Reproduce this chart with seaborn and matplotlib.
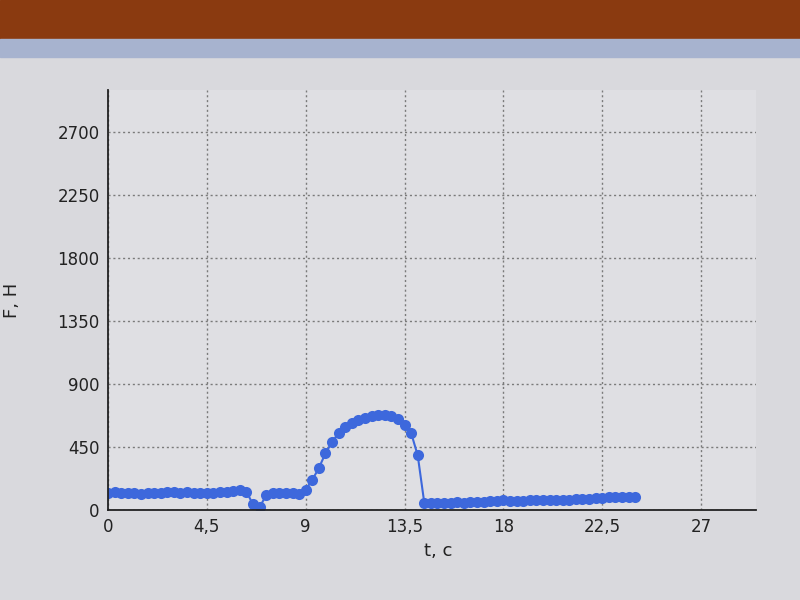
import matplotlib
matplotlib.use("Agg")
import matplotlib.pyplot as plt
import seaborn as sns
import pandas as pd
from matplotlib.ticker import MultipleLocator

# --- data ---
t = [0.0, 0.3, 0.6, 0.9, 1.2, 1.5, 1.8, 2.1, 2.4, 2.7,
     3.0, 3.3, 3.6, 3.9, 4.2, 4.5, 4.8, 5.1, 5.4, 5.7,
     6.0, 6.3, 6.6, 6.9, 7.2, 7.5, 7.8, 8.1, 8.4, 8.7,
     9.0, 9.3, 9.6, 9.9, 10.2, 10.5, 10.8, 11.1, 11.4, 11.7,
     12.0, 12.3, 12.6, 12.9, 13.2, 13.5, 13.8, 14.1, 14.4, 14.7,
     15.0, 15.3, 15.6, 15.9, 16.2, 16.5, 16.8, 17.1, 17.4, 17.7,
     18.0, 18.3, 18.6, 18.9, 19.2, 19.5, 19.8, 20.1, 20.4, 20.7,
     21.0, 21.3, 21.6, 21.9, 22.2, 22.5, 22.8, 23.1, 23.4, 23.7, 24.0]
F = [125, 128, 122, 120, 118, 115, 118, 122, 125, 128,
     126, 124, 128, 125, 122, 120, 124, 128, 130, 135,
     140, 132, 40, 20, 105, 118, 122, 125, 120, 115,
     145, 215, 300, 405, 485, 550, 595, 625, 645, 660,
     670, 678, 680, 672, 650, 610, 550, 390, 50, 50,
     48, 52, 50, 55, 52, 55, 60, 58, 62, 65,
     68, 65, 62, 65, 68, 72, 70, 72, 75, 72,
     75, 78, 80, 82, 85, 88, 90, 92, 95, 92, 90]

x_ticks = [0, 4.5, 9, 13.5, 18, 22.5, 27]
x_tick_labels = ["0", "4,5", "9", "13,5", "18", "22,5", "27"]
y_ticks = [0, 450, 900, 1350, 1800, 2250, 2700]
y_tick_labels = ["0", "450", "900", "1350", "1800", "2250", "2700"]

df = pd.DataFrame({"t": t, "F": F})

sns.set_style("white")
plt.rcParams["font.family"] = ["DejaVu Sans"]

fig = plt.figure(figsize=(8, 6), dpi=100)
fig.patch.set_facecolor("#d9d9dd")
# window frame hints from the photo
fig.patches.append(plt.Rectangle((0, 0.935), 1, 0.065, transform=fig.transFigure,
                                 color="#8a3a10", zorder=0))
fig.patches.append(plt.Rectangle((0, 0.905), 1, 0.03, transform=fig.transFigure,
                                 color="#a7b3cf", zorder=0))

ax = fig.add_axes([0.135, 0.15, 0.81, 0.70])
ax.set_facecolor("#dfdfe3")

sns.lineplot(data=df, x="t", y="F", ax=ax, color="#3d68dc", linewidth=1.5,
             marker="o", markersize=8, markeredgewidth=0)

ax.set_xlim(0, 29.5)
ax.set_ylim(0, 3000)
ax.set_xticks(x_ticks)
ax.set_xticklabels(x_tick_labels)
ax.set_yticks(y_ticks)
ax.set_yticklabels(y_tick_labels)
ax.xaxis.set_minor_locator(MultipleLocator(1.5))
ax.yaxis.set_minor_locator(MultipleLocator(150))
ax.tick_params(axis="both", which="major", length=6, width=1.2, direction="in",
               labelsize=12, colors="#222222", pad=6)
ax.tick_params(axis="both", which="minor", length=3, width=1, direction="in")
ax.grid(True, which="major", linestyle=(0, (1.5, 2)), color="#7a7a7a", linewidth=1)

for s in ["top", "right"]:
    ax.spines[s].set_visible(False)
for s in ["left", "bottom"]:
    ax.spines[s].set_color("#222222")
    ax.spines[s].set_linewidth(1.3)

ax.set_xlabel("t, c", fontsize=13, color="#222222")
ax.set_ylabel("F, H", fontsize=13, color="#222222")
ax.xaxis.set_label_coords(0.51, -0.075)
ax.yaxis.set_label_coords(-0.135, 0.5)

fig.savefig("out.png", dpi=100, facecolor=fig.get_facecolor())
